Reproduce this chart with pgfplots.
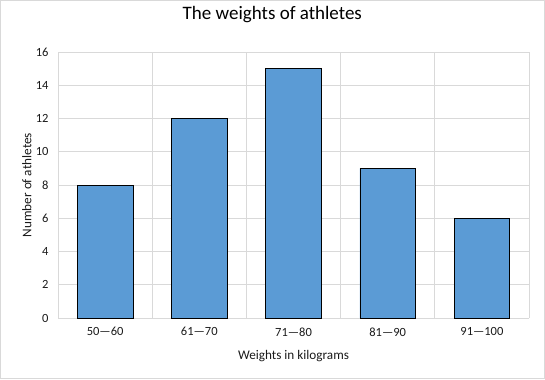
\documentclass[border=0pt]{standalone}
\usepackage{pgfplots}
\pgfplotsset{compat=1.18}
\usepackage{fontspec}
\setmainfont{Carlito}
\definecolor{barblue}{HTML}{5B9BD5}
\definecolor{gridgray}{HTML}{D9D9D9}
\definecolor{txt}{HTML}{1A1A1A}
\begin{document}
\begin{tikzpicture}[x=1bp,y=1bp]
\useasboundingbox (0,0) rectangle (545,379);
\draw[gridgray, line width=0.75bp] (0.5,0.5) rectangle (544.5,378.5);
\begin{axis}[
  at={(58bp,61bp)}, anchor=south west,
  scale only axis, width=471bp, height=266bp,
  xmin=-0.5, xmax=4.5, ymin=0, ymax=16,
  ytick={0,2,...,16},
  xtick={0,1,2,3,4},
  xticklabels={50—60,61—70,71—80,81—90,91—100},
  minor xtick={-0.5,0.5,1.5,2.5,3.5,4.5},
  xminorgrids, ymajorgrids,
  grid style={gridgray, line width=0.75bp},
  minor grid style={gridgray, line width=0.75bp},
  major tick length=0pt, minor tick length=0pt,
  axis line style={draw=none},
  axis x line*=bottom, axis y line*=left,
  x axis line style={draw=gridgray, line width=0.75bp},
  y axis line style={draw=none},
  ticklabel style={font=\fontsize{12.5bp}{14bp}\selectfont, text=txt},
  /pgf/number format/assume math mode=true,
  yticklabel style={xshift=-6bp},
  xticklabel style={yshift=-6bp},
  title={The weights of athletes},
  title style={font=\fontsize{19bp}{22bp}\selectfont, text=black, at={(axis description cs:0.455,1.120)}, anchor=center},
  xlabel={Weights in kilograms},
  xlabel style={font=\fontsize{13.2bp}{15bp}\selectfont, text=txt, at={(axis description cs:0.5,-0.143)}, anchor=center},
  ylabel={Number of athletes},
  ylabel style={font=\fontsize{13.2bp}{15bp}\selectfont, text=txt, at={(axis description cs:-0.066,0.5)}, anchor=center, rotate=0},
  clip=false,
]
\addplot[ybar, bar width=0.59, fill=barblue, draw=black, line width=0.75bp] coordinates {(0,8) (1,12) (2,15) (3,9) (4,6)};
\end{axis}
\end{tikzpicture}
\end{document}
